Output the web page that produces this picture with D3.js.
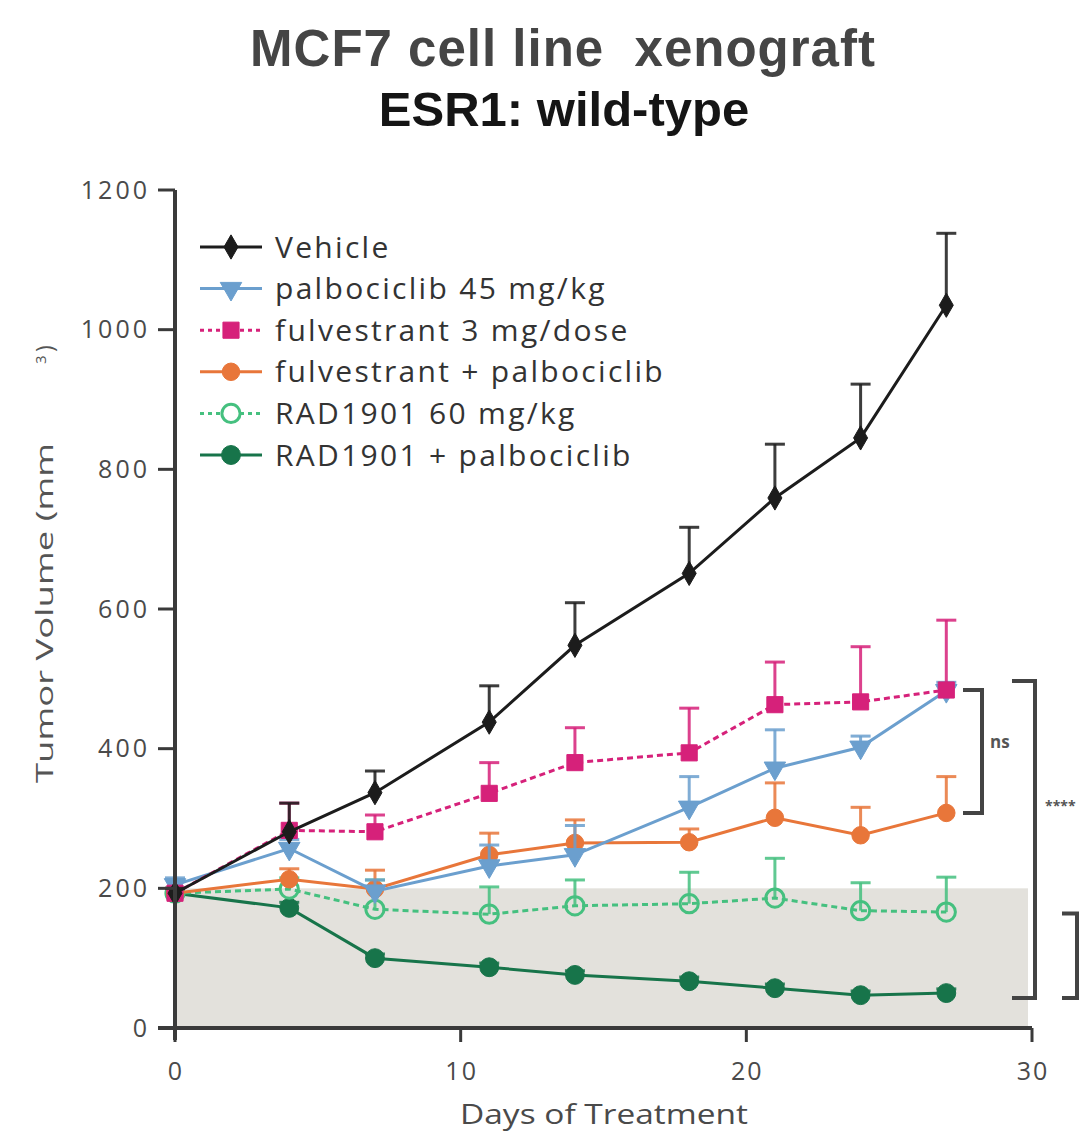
<!DOCTYPE html>
<html>
<head>
<meta charset="utf-8">
<script src="https://cdn.jsdelivr.net/npm/d3@7"></script>
<style>
  body { margin: 0; background: #fff; }
  svg text { font-family: "Open Sans", Lato, sans-serif; }
</style>
</head>
<body>
<div id="chart"></div>
<script>
// 資料：天數與各組腫瘤體積 (mean, upper error)
const days = [0, 4, 7, 11, 14, 18, 21, 24, 27];
const seriesNames = ["Vehicle", "palbociclib 45 mg/kg", "fulvestrant 3 mg/dose",
  "fulvestrant + palbociclib", "RAD1901 60 mg/kg", "RAD1901 + palbociclib"];
const vehicle = [193, 281, 337, 438, 548, 651, 759, 845, 1035];
const vehicleErr = [200, 322, 368, 490, 609, 717, 836, 922, 1138];
const palbo = [205, 257, 196, 232, 248, 316, 372, 402, 483];
const palboErr = [215, 270, 212, 262, 290, 360, 427, 418, 495];
const fulv = [193, 283, 281, 336, 380, 394, 463, 467, 484];
const fulvErr = [200, 322, 305, 380, 430, 458, 524, 546, 584];
const fulvPalbo = [193, 213, 199, 248, 265, 266, 301, 276, 308];
const fulvPalboErr = [200, 228, 226, 279, 298, 285, 351, 316, 360];
const rad = [193, 199, 170, 163, 175, 178, 186, 168, 166];
const radErr = [200, 215, 212, 202, 212, 223, 243, 208, 216];
const radPalbo = [193, 172, 100, 87, 76, 67, 57, 47, 50];
const radPalboErr = [198, 180, 106, 93, 82, 73, 63, 53, 56];
const xTicks = [0, 10, 20, 30];
const yTicks = [0, 200, 400, 600, 800, 1000, 1200];

const width = 1080, height = 1135;
const x = d3.scaleLinear().domain([0, 30]).range([175, 1032]);
const y = d3.scaleLinear().domain([0, 1200]).range([1028, 190]);

const svg = d3.select("#chart").append("svg")
  .attr("width", width).attr("height", height);

// 標題
svg.append("text").attr("x", 563).attr("y", 66).attr("text-anchor", "middle")
  .style("font-family", "'Liberation Sans', Arial, sans-serif")
  .style("white-space", "pre").style("letter-spacing", "1px")
  .attr("font-size", 51).attr("font-weight", "bold").attr("fill", "#454545")
  .text("MCF7 cell line  xenograft");
svg.append("text").attr("x", 564).attr("y", 126).attr("text-anchor", "middle")
  .style("font-family", "'Liberation Sans', Arial, sans-serif")
  .attr("font-size", 49).attr("font-weight", "bold").attr("fill", "#151515")
  .text("ESR1: wild-type");

// 灰色背景區 (0-200)
svg.append("rect")
  .attr("x", x(0)).attr("y", y(200))
  .attr("width", x(30) - x(0) - 4).attr("height", y(0) - y(200))
  .attr("fill", "#e3e1dc");

const groups = [
  { name: seriesNames[0], v: vehicle, e: vehicleErr, color: "#1c1c1c", shape: d3.symbolDiamond, size: 170, dash: null, open: false },
  { name: seriesNames[1], v: palbo, e: palboErr, color: "#6b9fce", shape: d3.symbolTriangle, size: 200, dash: null, open: false, flip: true },
  { name: seriesNames[2], v: fulv, e: fulvErr, color: "#d6217a", shape: d3.symbolSquare, size: 260, dash: "6,4", open: false },
  { name: seriesNames[3], v: fulvPalbo, e: fulvPalboErr, color: "#e8763a", shape: d3.symbolCircle, size: 240, dash: null, open: false },
  { name: seriesNames[4], v: rad, e: radErr, color: "#45c07f", shape: d3.symbolCircle, size: 260, dash: "6,4", open: true },
  { name: seriesNames[5], v: radPalbo, e: radPalboErr, color: "#17744a", shape: d3.symbolCircle, size: 280, dash: null, open: false }
];

// 畫圖順序：從下往上
const drawOrder = [5, 4, 3, 1, 2, 0];
const line = d3.line().x(d => x(d[0])).y(d => y(d[1]));

drawOrder.forEach(i => {
  const g = groups[i];
  const gg = svg.append("g");
  const pts = days.map((d, k) => [d, g.v[k], g.e[k]]);
  // 誤差線 (上方)
  gg.selectAll(".err").data(pts).enter().append("line")
    .attr("x1", d => x(d[0])).attr("x2", d => x(d[0]))
    .attr("y1", d => y(d[1])).attr("y2", d => y(d[2]))
    .attr("stroke", g.color).attr("stroke-width", 3).attr("opacity", 0.85);
  gg.selectAll(".cap").data(pts).enter().append("line")
    .attr("x1", d => x(d[0]) - 10).attr("x2", d => x(d[0]) + 10)
    .attr("y1", d => y(d[2])).attr("y2", d => y(d[2]))
    .attr("stroke", g.color).attr("stroke-width", 3).attr("opacity", 0.85);
  gg.append("path").datum(pts).attr("d", line)
    .attr("fill", "none").attr("stroke", g.color).attr("stroke-width", 3)
    .attr("stroke-dasharray", g.dash);
  gg.selectAll(".pt").data(pts).enter().append("path")
    .attr("d", d3.symbol().type(g.shape).size(g.size))
    .attr("transform", d => `translate(${x(d[0])},${y(d[1])})` + (g.flip ? " rotate(180)" : ""))
    .attr("fill", g.open ? "none" : g.color)
    .attr("stroke", g.color).attr("stroke-width", g.open ? 3 : 1);
});

// 軸
const axisColor = "#3a3a3a";
const tickColor = "#4a4a4a";
svg.append("line").attr("x1", x(0)).attr("x2", x(0)).attr("y1", y(1200)).attr("y2", 1040)
  .attr("stroke", axisColor).attr("stroke-width", 4);
svg.append("line").attr("x1", 158).attr("x2", x(30)).attr("y1", y(0)).attr("y2", y(0))
  .attr("stroke", axisColor).attr("stroke-width", 4);
svg.selectAll(".ytick").data(yTicks).enter().append("line")
  .attr("x1", 158).attr("x2", x(0)).attr("y1", d => y(d)).attr("y2", d => y(d))
  .attr("stroke", axisColor).attr("stroke-width", 3);
svg.selectAll(".ylab").data(yTicks).enter().append("text")
  .attr("x", 150).attr("y", d => y(d)).attr("dy", "0.35em").attr("text-anchor", "end")
  .style("letter-spacing", "3px")
  .attr("font-size", 25).attr("fill", tickColor).text(d => d);
svg.selectAll(".xtick").data(xTicks).enter().append("line")
  .attr("x1", d => x(d)).attr("x2", d => x(d)).attr("y1", y(0)).attr("y2", 1042)
  .attr("stroke", axisColor).attr("stroke-width", 3);
svg.selectAll(".xlab").data(xTicks).enter().append("text")
  .attr("x", d => x(d) + 1).attr("y", 1080).attr("text-anchor", "middle")
  .style("letter-spacing", "2px")
  .attr("font-size", 25).attr("fill", tickColor).text(d => d);

svg.append("text").attr("x", 460).attr("y", 1124)
  .attr("textLength", 288).attr("lengthAdjust", "spacingAndGlyphs")
  .attr("font-size", 27).attr("fill", tickColor).text("Days of Treatment");
// y 軸標籤
svg.append("text").attr("transform", "translate(53,783) rotate(-90)")
  .attr("textLength", 340).attr("lengthAdjust", "spacingAndGlyphs")
  .attr("font-size", 23).attr("fill", "#555").text("Tumor Volume (mm");
svg.append("text").attr("transform", "translate(46,364) rotate(-90)")
  .attr("font-size", 15).attr("fill", "#555")
  .text("3");
svg.append("text").attr("transform", "translate(53,352) rotate(-90)")
  .attr("font-size", 23).attr("fill", "#555").text(")");

// 圖例
const legend = svg.append("g");
groups.forEach((g, i) => {
  const ly = 247 + i * 41.6;
  legend.append("line").attr("x1", 200).attr("x2", 262).attr("y1", ly).attr("y2", ly)
    .attr("stroke", g.color).attr("stroke-width", 3).attr("stroke-dasharray", g.dash ? "4,4" : null);
  legend.append("path")
    .attr("d", d3.symbol().type(g.shape).size(g.size))
    .attr("transform", `translate(231,${ly})` + (g.flip ? " rotate(180)" : ""))
    .attr("fill", g.open ? "#fff" : g.color)
    .attr("stroke", g.color).attr("stroke-width", g.open ? 3 : 1);
  legend.append("text").attr("x", 275).attr("y", ly).attr("dy", "0.35em")
    .style("letter-spacing", "2.3px")
    .attr("font-size", 30).attr("fill", "#333").text(g.name);
});

// 顯著性括號
const bracket = (x0, xv, v1, v2, text, tx, ty, fs) => {
  svg.append("path")
    .attr("d", `M${x0},${y(v1)} H${xv} V${y(v2)} H${x0}`)
    .attr("fill", "none").attr("stroke", "#444").attr("stroke-width", 4);
  if (text) svg.append("text").attr("x", tx).attr("y", ty).attr("dy", "0.35em")
    .attr("font-size", fs).attr("font-weight", "bold").attr("fill", "#555").text(text);
};
bracket(963, 982, fulv[8], fulvPalbo[8], "ns", 990, 742, 17);
bracket(1012, 1035, 497, 43, "****", 1045, 806, 14);
bracket(1062, 1077, rad[8] - 2, 43, null);
</script>
</body>
</html>
